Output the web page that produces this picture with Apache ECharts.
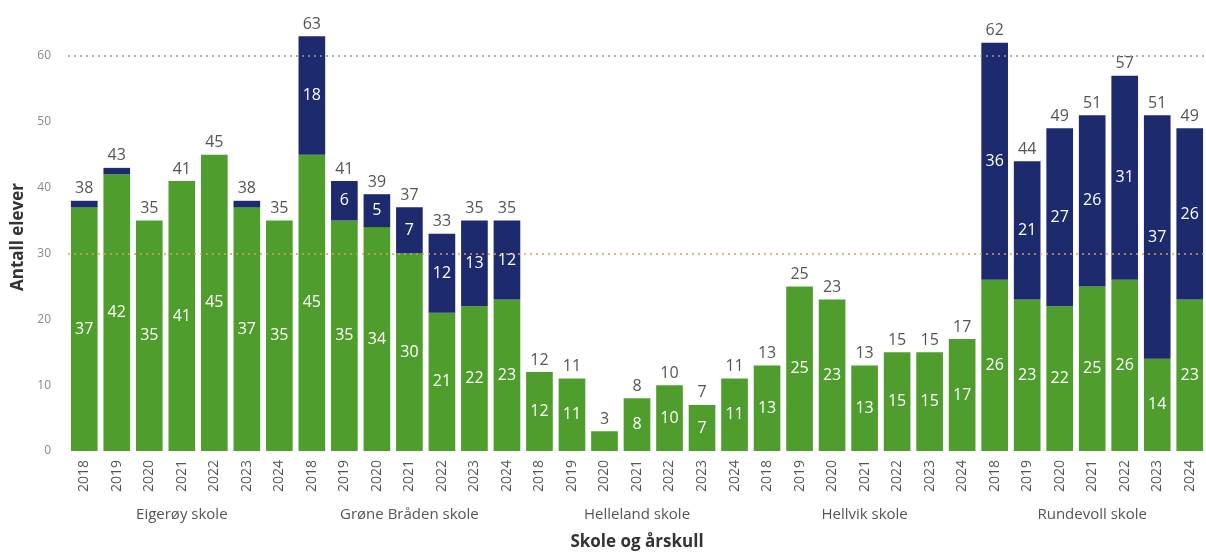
<!DOCTYPE html>
<html>
<head>
<meta charset="utf-8">
<script src="https://cdn.jsdelivr.net/npm/echarts@6/dist/echarts.min.js"></script>
<style>
  html, body { margin: 0; padding: 0; background: #fff; }
  #chart { width: 1206px; height: 553px; }
</style>
</head>
<body>
<div id="chart"></div>
<script>
const skoler = ['Eigerøy skole', 'Grøne Bråden skole', 'Helleland skole', 'Hellvik skole', 'Rundevoll skole'];
const aar = ['2018', '2019', '2020', '2021', '2022', '2023', '2024'];

// grønn del (nederst), ett tall per skole og årskull
const gronn = [
    37, 42, 35, 41, 45, 37, 35,
    45, 35, 34, 30, 21, 22, 23,
    12, 11, 3, 8, 10, 7, 11,
    13, 25, 23, 13, 15, 15, 17,
    26, 23, 22, 25, 26, 14, 23
];
// blå del (øverst)
const bla = [
    1, 1, 0, 0, 0, 1, 0,
    18, 6, 5, 7, 12, 13, 12,
    0, 0, 0, 0, 0, 0, 0,
    0, 0, 0, 0, 0, 0, 0,
    36, 21, 27, 26, 31, 37, 26
];
const referanse = [60, 30];

const kategorier = [];
skoler.forEach(() => aar.forEach(a => kategorier.push(a)));
const totalt = gronn.map((g, i) => g + bla[i]);

const FONT = '"Open Sans", "Noto Sans", sans-serif';

const chart = echarts.init(document.getElementById('chart'));

chart.setOption({
    animation: false,
    textStyle: { fontFamily: FONT },
    grid: { left: 68, right: 0, top: 23, bottom: 102, outerBoundsMode: 'none', containLabel: false },
    xAxis: [{
        type: 'category',
        data: kategorier,
        axisLine: { show: false },
        axisTick: { show: false },
        axisLabel: {
            rotate: 90,
            interval: 0,
            margin: 9,
            fontSize: 14,
            color: '#555',
            fontFamily: FONT
        }
    }, {
        type: 'category',
        data: skoler,
        position: 'bottom',
        offset: 50,
        axisLine: { show: false },
        axisTick: { show: false },
        axisLabel: { fontSize: 15, color: '#555', margin: 6, fontFamily: FONT },
        name: 'Skole og årskull',
        nameLocation: 'middle',
        nameGap: 33,
        nameTextStyle: { fontSize: 17, fontWeight: 'bold', color: '#333', fontFamily: FONT }
    }],
    yAxis: {
        type: 'value',
        min: 0,
        max: 65,
        interval: 10,
        splitLine: { show: false },
        axisLine: { show: false },
        axisTick: { show: false },
        axisLabel: { fontSize: 12, color: '#888', margin: 17, showMaxLabel: false },
        name: 'Antall elever',
        nameLocation: 'middle',
        nameGap: 40,
        nameTextStyle: { fontSize: 17, fontWeight: 'bold', color: '#333', fontFamily: FONT }
    },
    series: [{
        name: 'Grønn',
        type: 'bar',
        stack: 'elever',
        data: gronn,
        barCategoryGap: '18%',
        itemStyle: { color: '#4f9e2d' },
        label: {
            show: true,
            position: 'inside',
            color: '#fff',
            fontSize: 16,
            formatter: p => (p.value >= 5 ? p.value : '')
        }
    }, {
        name: 'Blå',
        type: 'bar',
        stack: 'elever',
        data: bla,
        itemStyle: { color: '#1e2a6e' },
        label: {
            show: true,
            position: 'inside',
            color: '#fff',
            fontSize: 16,
            formatter: p => (p.value >= 5 ? p.value : '')
        }
    }, {
        name: 'Totalt',
        type: 'bar',
        stack: 'elever',
        data: totalt.map(() => 0),
        itemStyle: { color: 'transparent' },
        label: {
            show: true,
            position: 'top',
            distance: 4,
            color: '#555',
            fontSize: 16,
            formatter: p => totalt[p.dataIndex]
        },
        markLine: {
            silent: true,
            symbol: 'none',
            label: { show: false },
            data: [
                { yAxis: referanse[0], lineStyle: { color: '#999', type: [2, 4], width: 1.5 } },
                { yAxis: referanse[1], lineStyle: { color: '#c9a656', type: [2, 4], width: 1.5 } }
            ]
        }
    }]
});
</script>
</body>
</html>
